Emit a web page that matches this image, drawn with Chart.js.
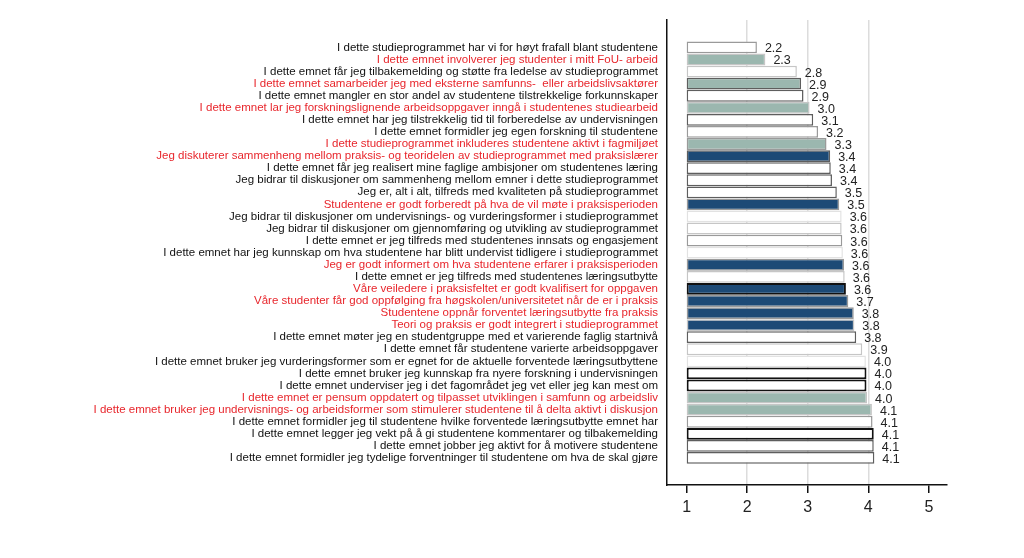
<!DOCTYPE html>
<html><head><meta charset="utf-8">
<script src="https://cdn.jsdelivr.net/npm/chart.js@4"></script>
<style>html,body{margin:0;padding:0;background:#fff}</style>
</head><body>
<canvas id="c" width="1024" height="558"></canvas>
<script>
const categories = [
"I dette studieprogrammet har vi for høyt frafall blant studentene",
"I dette emnet involverer jeg studenter i mitt FoU- arbeid",
"I dette emnet får jeg tilbakemelding og støtte fra ledelse av studieprogrammet",
"I dette emnet samarbeider jeg med eksterne samfunns-  eller arbeidslivsaktører",
"I dette emnet mangler en stor andel av studentene tilstrekkelige forkunnskaper",
"I dette emnet lar jeg forskningslignende arbeidsoppgaver inngå i studentenes studiearbeid",
"I dette emnet har jeg tilstrekkelig tid til forberedelse av undervisningen",
"I dette emnet formidler jeg egen forskning til studentene",
"I dette studieprogrammet inkluderes studentene aktivt i fagmiljøet",
"Jeg diskuterer sammenheng mellom praksis- og teoridelen av studieprogrammet med praksislærer",
"I dette emnet får jeg realisert mine faglige ambisjoner om studentenes læring",
"Jeg bidrar til diskusjoner om sammenheng mellom emner i dette studieprogrammet",
"Jeg er, alt i alt, tilfreds med kvaliteten på studieprogrammet",
"Studentene er godt forberedt på hva de vil møte i praksisperioden",
"Jeg bidrar til diskusjoner om undervisnings- og vurderingsformer i studieprogrammet",
"Jeg bidrar til diskusjoner om gjennomføring og utvikling av studieprogrammet",
"I dette emnet er jeg tilfreds med studentenes innsats og engasjement",
"I dette emnet har jeg kunnskap om hva studentene har blitt undervist tidligere i studieprogrammet",
"Jeg er godt informert om hva studentene erfarer i praksisperioden",
"I dette emnet er jeg tilfreds med studentenes læringsutbytte",
"Våre veiledere i praksisfeltet er godt kvalifisert for oppgaven",
"Våre studenter får god oppfølging fra høgskolen/universitetet når de er i praksis",
"Studentene oppnår forventet læringsutbytte fra praksis",
"Teori og praksis er godt integrert i studieprogrammet",
"I dette emnet møter jeg en studentgruppe med et varierende faglig startnivå",
"I dette emnet får studentene varierte arbeidsoppgaver",
"I dette emnet bruker jeg vurderingsformer som er egnet for de aktuelle forventede læringsutbyttene",
"I dette emnet bruker jeg kunnskap fra nyere forskning i undervisningen",
"I dette emnet underviser jeg i det fagområdet jeg vet eller jeg kan mest om",
"I dette emnet er pensum oppdatert og tilpasset utviklingen i samfunn og arbeidsliv",
"I dette emnet bruker jeg undervisnings- og arbeidsformer som stimulerer studentene til å delta aktivt i diskusjon",
"I dette emnet formidler jeg til studentene hvilke forventede læringsutbytte emnet har",
"I dette emnet legger jeg vekt på å gi studentene kommentarer og tilbakemelding",
"I dette emnet jobber jeg aktivt for å motivere studentene",
"I dette emnet formidler jeg tydelige forventninger til studentene om hva de skal gjøre"
];
const values = [2.16,2.30,2.82,2.89,2.93,3.03,3.09,3.17,3.31,3.37,3.38,3.40,3.48,3.52,3.56,3.56,3.57,3.58,3.60,3.61,3.63,3.67,3.76,3.77,3.80,3.90,3.96,3.97,3.97,3.98,4.06,4.07,4.09,4.09,4.10];
// g = general, r = research, p = practice
const groups = ["g","r","g","r","g","r","g","g","r","p","g","g","g","p","g","g","g","g","p","g","p","p","p","p","g","g","g","g","g","r","r","g","g","g","g"];
const xTicks = [1,2,3,4,5];

// styles
const fillColors = {g:"#ffffff", r:"#9bb7af", p:"#1d4a76"};
const labelColors = {g:"#111111", r:"#e8262c", p:"#e8262c"};
const shade = {vl:"#e2e2e2", l:"#c6c6c6", m:"#9a9a9a", d:"#5e5e5e", b:"#111111"};
const borderShade = ["m","l","l","d","d","l","d","m","m","d","d","d","d","m","vl","l","m","vl","m","l","b","m","m","l","d","l","vl","b","b","l","l","m","b","d","d"];

const FONT = '"Liberation Sans", Arial, Helvetica, sans-serif';
Chart.defaults.font.family = FONT;

const valueLabels = {
  id: 'valueLabels',
  afterDatasetsDraw(chart) {
    const ctx = chart.ctx;
    const meta = chart.getDatasetMeta(0);
    ctx.save();
    ctx.font = '12.5px ' + FONT;
    ctx.fillStyle = '#222';
    ctx.textBaseline = 'middle';
    ctx.textAlign = 'left';
    meta.data.forEach((bar, i) => {
      ctx.fillText(values[i].toFixed(1), bar.x + 8, bar.y + 1.5);
    });
    ctx.restore();
  }
};

new Chart(document.getElementById('c'), {
  type: 'bar',
  data: {
    datasets: [{
      data: categories.map((c, i) => ({x: [1, values[i]], y: i})),
      backgroundColor: groups.map(g => fillColors[g]),
      borderColor: borderShade.map(s => shade[s]),
      borderWidth: borderShade.map(s => s === 'b' ? 2 : 1.5),
      borderSkipped: false,
      categoryPercentage: 1,
      barPercentage: 0.98
    }]
  },
  options: {
    indexAxis: 'y',
    responsive: false,
    devicePixelRatio: 1,
    animation: false,
    layout: {padding: {left: 0, right: 77, top: 20, bottom: 0}},
    plugins: {legend: {display: false}, tooltip: {enabled: false}},
    scales: {
      x: {
        type: 'linear',
        offset: false,
        min: 0.675, max: 5.3,
        afterBuildTicks: s => { s.ticks = xTicks.map(v => ({value: v})); },
        afterFit: s => { s.height = 73; },
        grid: {
          offset: false,
          color: c => (c.tick && [2,3,4].includes(c.tick.value)) ? '#dcdcdc' : 'rgba(0,0,0,0)',
          lineWidth: 1.5,
          tickColor: '#111',
          tickWidth: 1.5,
          tickLength: 8
        },
        border: {color: '#111', width: 1.5},
        ticks: {font: {size: 16}, color: '#222', padding: 5}
      },
      y: {
        type: 'linear',
        offset: false,
        reverse: true,
        min: -2.27, max: 36.24,
        afterBuildTicks: s => { s.ticks = categories.map((c, i) => ({value: i})); },
        afterFit: s => { s.width = 667; },
        grid: {display: true, offset: false, drawOnChartArea: false, drawTicks: false, color: 'rgba(0,0,0,0)'},
        border: {display: true, color: '#111', width: 1.5},
        ticks: {
          autoSkip: false,
          padding: 9,
          font: {size: 11.5},
          color: c => labelColors[groups[c.index]] || '#111',
          callback: v => categories[v]
        }
      }
    }
  },
  plugins: [valueLabels]
});
</script>
</body></html>
